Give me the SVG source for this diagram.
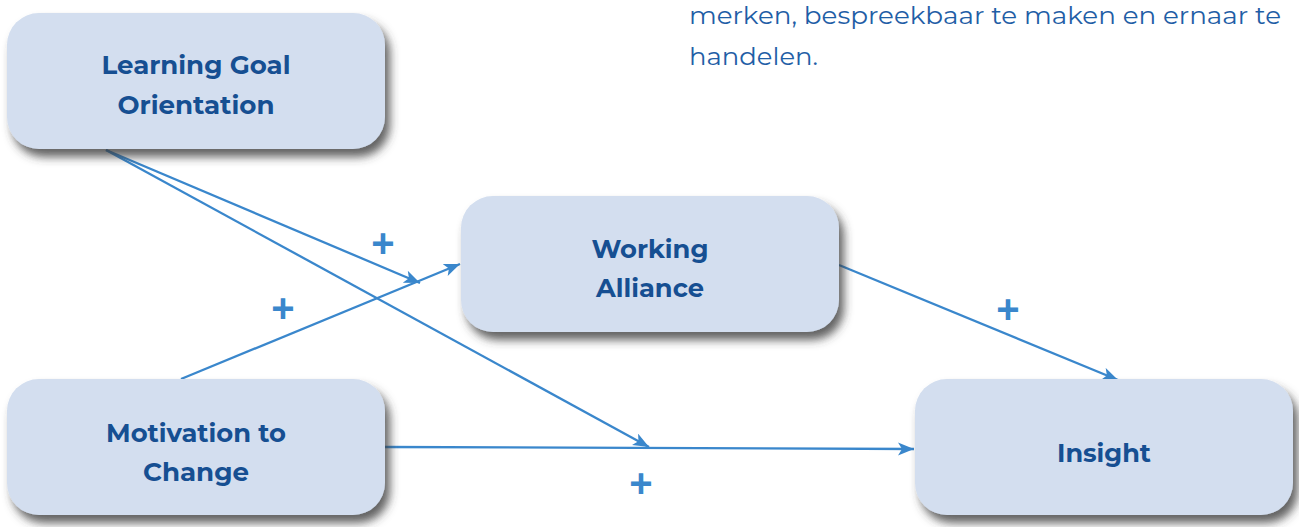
<svg xmlns="http://www.w3.org/2000/svg" width="1299" height="527" viewBox="0 0 1299 527">
  <style>
    .box { fill: #d3deef; filter: url(#shadow); }
    .label { font-family: "Montserrat", "Open Sans", "Liberation Sans", sans-serif; font-weight: 700; font-size: 26px; fill: #164f92; text-anchor: middle; }
    .note { font-family: "Montserrat", "Open Sans", "Liberation Sans", sans-serif; font-weight: 400; font-size: 24px; fill: #1f5ea6; }
    .link { fill: none; stroke: #3a87cc; stroke-width: 2.3; marker-end: url(#arrow); }
    .sign { font-family: "Liberation Sans", "Arial", sans-serif; font-weight: 700; font-size: 40px; fill: #3a87cc; text-anchor: middle; }
  </style>
  <defs>
    <filter id="shadow" x="-10%" y="-20%" width="130%" height="150%">
      <feDropShadow dx="5" dy="8" stdDeviation="5" flood-color="#3a3a3a" flood-opacity="0.8"/>
    </filter>
    <marker id="arrow" markerUnits="userSpaceOnUse" markerWidth="18" markerHeight="14" refX="16" refY="6.5" orient="auto">
      <path d="M0,0 L16,6.5 L0,13 L4,6.5 Z" fill="#3a87cc"/>
    </marker>
  </defs>

  <rect width="1299" height="527" fill="#ffffff"/>

  <!-- paragraph fragment, top right -->
  <text class="note" x="689" y="24" textLength="592" lengthAdjust="spacingAndGlyphs">merken, bespreekbaar te maken en ernaar te</text>
  <text class="note" x="689" y="65" textLength="129" lengthAdjust="spacingAndGlyphs">handelen.</text>

  <!-- connectors with their "+" signs -->
  <g id="connectors">
    <line class="link" x1="106" y1="150" x2="420" y2="283"/>
    <line class="link" x1="106" y1="150" x2="649" y2="447"/>
    <line class="link" x1="181" y1="379" x2="460" y2="264"/>
    <line class="link" x1="385" y1="447" x2="914" y2="449"/>
    <line class="link" x1="839" y1="265" x2="1118" y2="380"/>
    <text class="sign" x="383" y="257">+</text>
    <text class="sign" x="283" y="322">+</text>
    <text class="sign" x="1008" y="323">+</text>
    <text class="sign" x="641" y="497">+</text>
  </g>

  <g id="learning-goal">
    <rect class="box" x="7" y="13" width="378" height="136" rx="32"/>
    <text class="label" x="196" y="74" textLength="189" lengthAdjust="spacingAndGlyphs">Learning Goal</text>
    <text class="label" x="196" y="114" textLength="157" lengthAdjust="spacingAndGlyphs">Orientation</text>
  </g>

  <g id="working-alliance">
    <rect class="box" x="461" y="196" width="378" height="136" rx="32"/>
    <text class="label" x="650" y="258" textLength="117" lengthAdjust="spacingAndGlyphs">Working</text>
    <text class="label" x="650" y="297" textLength="108" lengthAdjust="spacingAndGlyphs">Alliance</text>
  </g>

  <g id="motivation">
    <rect class="box" x="7" y="379" width="378" height="136" rx="32"/>
    <text class="label" x="196" y="442" textLength="180" lengthAdjust="spacingAndGlyphs">Motivation to</text>
    <text class="label" x="196" y="481" textLength="106" lengthAdjust="spacingAndGlyphs">Change</text>
  </g>

  <g id="insight">
    <rect class="box" x="915" y="379" width="378" height="136" rx="32"/>
    <text class="label" x="1104" y="462" textLength="94" lengthAdjust="spacingAndGlyphs">Insight</text>
  </g>
</svg>
